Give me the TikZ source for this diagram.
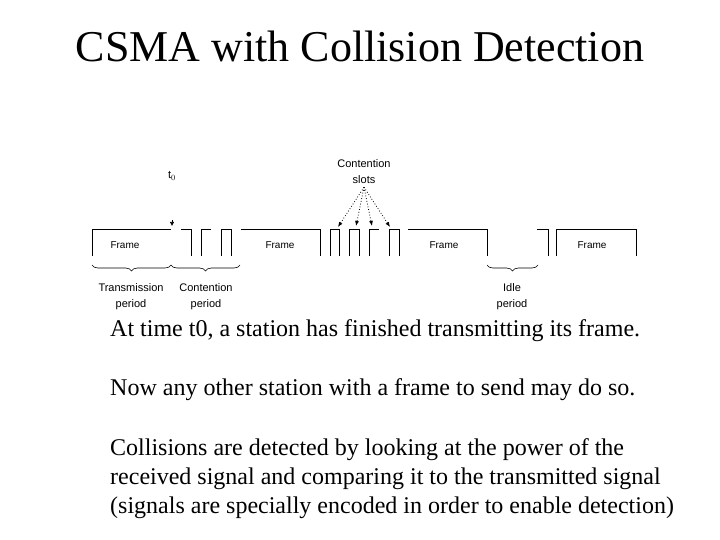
\documentclass[tikz,border=0pt]{standalone}
\usepackage{fontspec}
\setmainfont{Liberation Serif}
\setsansfont{Liberation Sans}
\usetikzlibrary{arrows.meta, decorations.pathreplacing, positioning}

\begin{document}
\begin{tikzpicture}[>=latex, x=1pt, y=-1pt,
    lbl/.style={font=\sffamily\fontsize{11}{16}\selectfont, align=center, inner sep=0pt},
    frm/.style={font=\sffamily\fontsize{10}{12}\selectfont, inner sep=0pt},
    body/.style={font=\fontsize{24}{29}\selectfont, anchor=base west, inner sep=0pt},
    wave/.style={line width=0.9pt},
    brc/.style={decorate, decoration={brace, mirror, amplitude=6pt}, line width=0.6pt},
    slotarrow/.style={-{Latex[length=5pt,width=4pt]}, dotted, line width=0.8pt}]
    \useasboundingbox (0,0) rectangle (720,540);

    % Titel
    \node[anchor=base, inner sep=0pt] (title) at (360,62)
        {\fontsize{44}{50}\selectfont CSMA with Collision Detection};

    % Signalverlauf: Rahmen und Konfliktslots
    \draw[wave] (92,256) -- (92,229) -- (171,229);
    \draw[wave] (181,229) -- (191,229) -- (191,256);
    \draw[wave] (201,256) -- (201,229) -- (211,229);
    \draw[wave] (221,256) -- (221,229) -- (231,229) -- (231,256);
    \draw[wave] (241,229) -- (320,229) -- (320,256);
    \draw[wave] (330,256) -- (330,229) -- (339,229) -- (339,256);
    \draw[wave] (349,256) -- (349,229) -- (359,229) -- (359,256);
    \draw[wave] (369,256) -- (369,229) -- (379,229);
    \draw[wave] (389,256) -- (389,229) -- (399,229) -- (399,256);
    \draw[wave] (408,229) -- (487,229) -- (487,256);
    \draw[wave] (537,229) -- (548,229) -- (548,256);
    \draw[wave] (556,256) -- (556,229) -- (636,229) -- (636,256);

    \node[frm] (frame1) at (125,245.5) {Frame};
    \node[frm] (frame2) at (280,245.5) {Frame};
    \node[frm] (frame3) at (444,245.5) {Frame};
    \node[frm] (frame4) at (592,245.5) {Frame};

    % t0
    \node[lbl] (tzero) at (172,176) {t$_0$};
    \coordinate (tmark) at (172,226);
    \draw[-{Latex[length=4pt,width=4.5pt]}, line width=0.6pt] ([yshift=6pt]tmark) -- (tmark);

    % Konfliktslots
    \node[lbl] (slots) at (364,172) {Contention\\slots};
    \coordinate (s1) at (338,227);
    \coordinate (s2) at (356,226);
    \coordinate (s3) at (372,226);
    \coordinate (s4) at (390,227);
    \foreach \s in {s1,s2,s3,s4}
        \draw[slotarrow] ([yshift=-3pt]slots.south) -- (\s);

    % Klammern
    \draw[brc] (92,265) -- (171,265);
    \draw[brc] (171,265) -- (240,265);
    \draw[brc] (487,265) -- (538,265);
    \node[lbl, anchor=north] (trans) at (131,283) {Transmission\\period};
    \node[lbl, anchor=north] (cont) at (206,283) {Contention\\period};
    \node[lbl, anchor=north] (idle) at (512,283) {Idle\\period};

    % Text
    \node[body] (line1) at (110,336) {At time t0, a station has finished transmitting its frame.};
    \node[body] (line2) at (110,395) {Now any other station with a frame to send may do so.};
    \node[body] (line3) at (110,455) {Collisions are detected by looking at the power of the};
    \node[body] (line4) at (110,484) {received signal and comparing it to the transmitted signal};
    \node[body] (line5) at (110,513) {(signals are specially encoded in order to enable detection)};
\end{tikzpicture}
\end{document}
